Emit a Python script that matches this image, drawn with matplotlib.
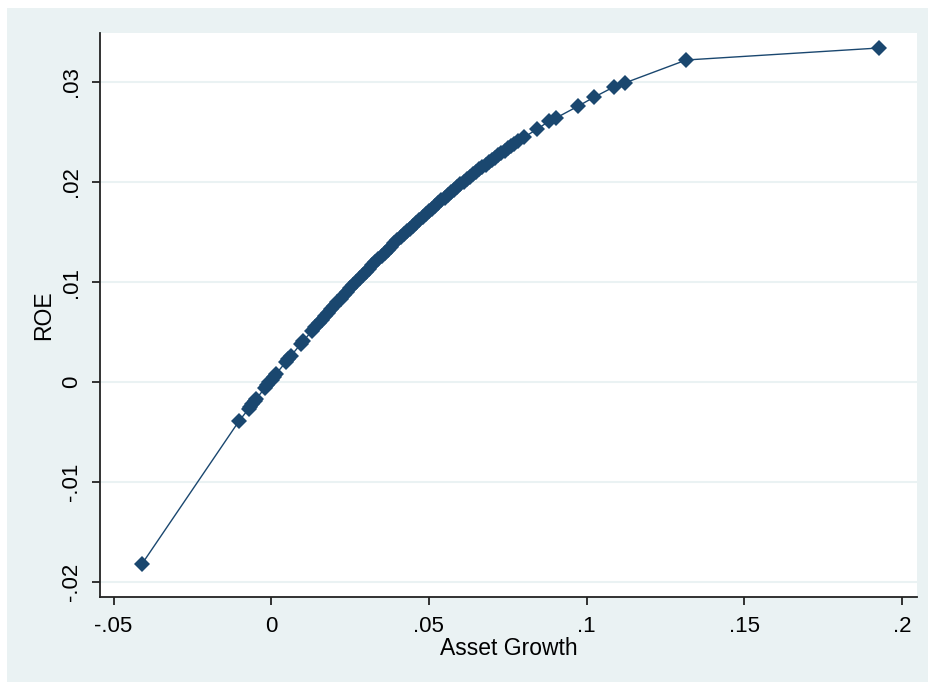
import matplotlib
import matplotlib.pyplot as plt
from matplotlib.patches import Rectangle

matplotlib.use('agg')

# asset growth vs predicted ROE
asset_growth = [
    -0.0410, -0.0102,
    -0.0072, -0.0066, -0.0060, -0.0053, -0.0047,
    -0.0020, -0.0013, -0.0006, 0.0001, 0.0008, 0.0015,
    0.0047, 0.0054, 0.0062,
    0.0095, 0.0102,
    0.013, 0.014, 0.015, 0.016, 0.017, 0.018, 0.019, 0.020, 0.021, 0.022,
    0.023, 0.024, 0.025, 0.026, 0.027, 0.028, 0.029, 0.030, 0.031, 0.032,
    0.033, 0.034, 0.035, 0.036, 0.037, 0.038, 0.039, 0.040, 0.041, 0.042,
    0.043, 0.044, 0.045, 0.046, 0.047, 0.048, 0.049, 0.050, 0.051, 0.052,
    0.053, 0.054, 0.055, 0.056, 0.057, 0.058, 0.059, 0.060, 0.061, 0.062,
    0.063, 0.064, 0.065, 0.066, 0.067, 0.068, 0.069, 0.070, 0.071, 0.072,
    0.073, 0.074, 0.075, 0.076, 0.077,
    0.0784, 0.0803, 0.0844, 0.0882, 0.0903, 0.0974, 0.1025, 0.1086, 0.1121,
    0.1316, 0.1927,
]
roe = [
    -0.0182, -0.0039,
    -0.00270, -0.00246, -0.00221, -0.00193, -0.00168,
    -0.00059, -0.00032, -0.00004, 0.00024, 0.00052, 0.00079,
    0.00203, 0.00230, 0.00260,
    0.00385, 0.00411,
    0.00514, 0.00550, 0.00587, 0.00623, 0.00658, 0.00694, 0.00729, 0.00764, 0.00799, 0.00833,
    0.00868, 0.00902, 0.00936, 0.00969, 0.01003, 0.01036, 0.01069, 0.01102, 0.01134, 0.01166,
    0.01198, 0.01230, 0.01262, 0.01293, 0.01324, 0.01355, 0.01386, 0.01416, 0.01446, 0.01476,
    0.01506, 0.01535, 0.01565, 0.01594, 0.01622, 0.01651, 0.01679, 0.01708, 0.01735, 0.01763,
    0.01790, 0.01818, 0.01845, 0.01871, 0.01898, 0.01924, 0.01950, 0.01976, 0.02002, 0.02027,
    0.02052, 0.02077, 0.02102, 0.02126, 0.02150, 0.02174, 0.02198, 0.02222, 0.02245, 0.02268,
    0.02291, 0.02313, 0.02336, 0.02358, 0.02380,
    0.02410, 0.02450, 0.0253, 0.0261, 0.0264, 0.0276, 0.0285, 0.0295, 0.0299,
    0.0322, 0.0334,
]

x_ticks = [-0.05, 0, 0.05, 0.1, 0.15, 0.2]
x_tick_labels = ['-.05', '0', '.05', '.1', '.15', '.2']
y_ticks = [-0.02, -0.01, 0, 0.01, 0.02, 0.03]
y_tick_labels = ['-.02', '-.01', '0', '.01', '.02', '.03']

navy = '#1a476f'
bluish = '#eaf2f3'

plt.rcParams['font.family'] = ['Liberation Sans', 'DejaVu Sans']

fig = plt.figure(figsize=(9.29, 6.82), dpi=100, facecolor='white')
# graph region background with thin white border
fig.patches.append(Rectangle((7 / 929, 0), 1 - 7 / 929, 1 - 8 / 682,
                             transform=fig.transFigure, facecolor=bluish,
                             edgecolor='none', zorder=-10))

ax = fig.add_axes([100 / 929, 1 - 597 / 682, 817 / 929, 564 / 682])
ax.set_zorder(1)
ax.set_facecolor('white')

ax.plot(asset_growth, roe, color=navy, linewidth=1.0, marker='D',
        markersize=8.2, markeredgewidth=0, zorder=3)

ax.set_xlim(-0.0543, 0.2048)
ax.set_ylim(-0.0215, 0.0349)

ax.set_xticks(x_ticks, x_tick_labels)
ax.set_yticks(y_ticks, y_tick_labels, rotation=90, va='center')
ax.tick_params(axis='both', length=6, width=1.3, color='#222222', labelsize=16)
ax.tick_params(axis='x', pad=8)
ax.tick_params(axis='y', pad=7)

ax.grid(axis='y', color=bluish, linewidth=1.5, zorder=1)
ax.set_axisbelow(True)

for side in ['top', 'right']:
    ax.spines[side].set_visible(False)
for side in ['left', 'bottom']:
    ax.spines[side].set_linewidth(1.3)
    ax.spines[side].set_color('#222222')

ax.set_xlabel('Asset Growth', fontsize=16.5, labelpad=0)
ax.set_ylabel('ROE', fontsize=16.5, labelpad=4)

plt.savefig('out.png', dpi=100, facecolor=fig.get_facecolor())
